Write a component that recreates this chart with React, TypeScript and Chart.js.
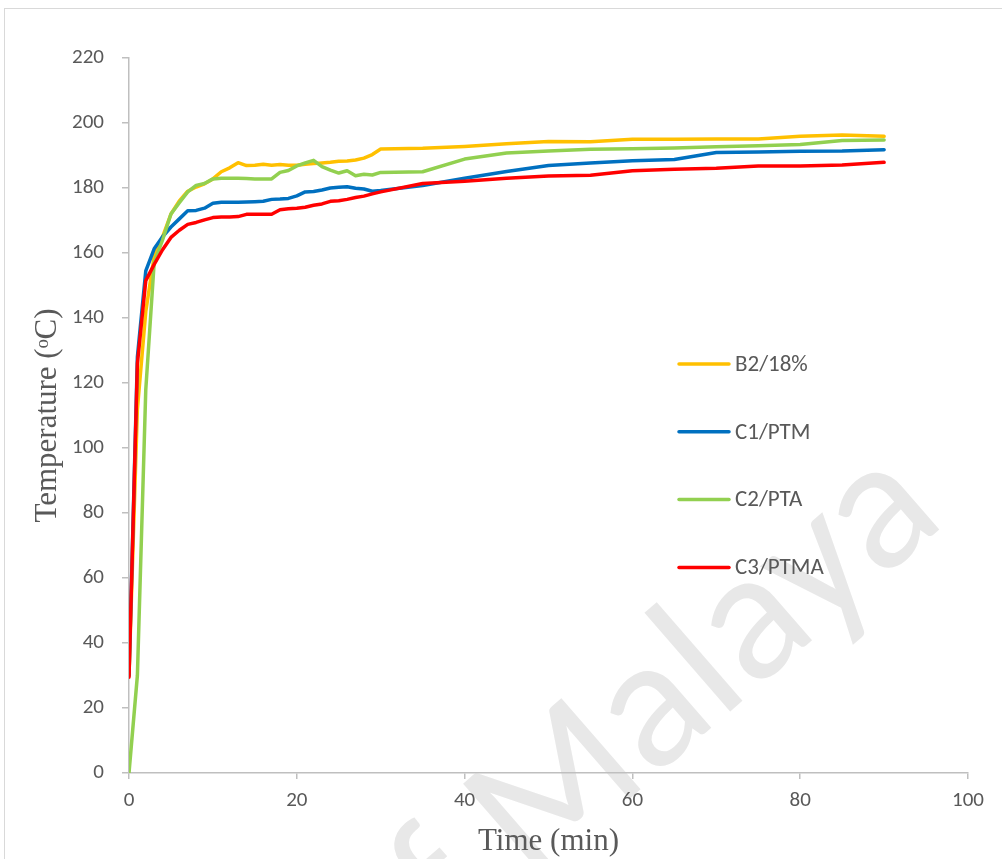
import React, { useEffect, useRef } from "react";
import { Chart, registerables } from "chart.js";

Chart.register(...registerables);

const times = [
  0, 1, 2, 3, 4, 5, 6, 7, 8, 9, 10, 11, 12, 13, 14, 15, 16, 17, 18, 19, 20,
  21, 22, 23, 24, 25, 26, 27, 28, 29, 30, 35, 40, 45, 50, 55, 60, 65, 70, 75,
  80, 85, 90,
];

const b2 = [
  30, 112, 142, 159, 165, 172, 176, 179, 180.3, 181.3, 182.8, 185, 186.2, 187.8,
  186.9, 187, 187.3, 187, 187.2, 187, 187, 187.3, 187.5, 187.7, 187.9, 188.2,
  188.3, 188.6, 189.2, 190.3, 192, 192.2, 192.8, 193.6, 194.3, 194.2, 195, 195,
  195.1, 195.1, 195.9, 196.3, 195.9,
];

const c1 = [
  30, 128, 154.5, 161.3, 165, 168, 170.5, 173, 173.1, 173.8, 175.3, 175.6,
  175.6, 175.6, 175.7, 175.8, 175.9, 176.5, 176.6, 176.8, 177.6, 178.8, 178.9,
  179.4, 180, 180.2, 180.4, 179.9, 179.7, 179, 179.2, 180.8, 183, 185.1, 186.9,
  187.7, 188.4, 188.8, 190.9, 191.1, 191.3, 191.4, 191.8,
];

const c2 = [
  0, 30, 118, 157, 164, 172, 175.5, 178.8, 180.8, 181.4, 182.8, 183, 183, 183,
  182.9, 182.8, 182.8, 182.8, 184.8, 185.4, 186.8, 187.7, 188.5, 186.6, 185.5,
  184.6, 185.3, 183.8, 184.2, 184, 184.8, 185, 188.9, 190.8, 191.4, 191.9, 192.1,
  192.3, 192.7, 193, 193.4, 194.6, 194.8,
];

const c3 = [
  29.5, 126, 151.5, 156.5, 161, 164.8, 167, 168.8, 169.4, 170.2, 170.9, 171.1,
  171.1, 171.2, 171.9, 171.9, 171.9, 171.9, 173.3, 173.6, 173.8, 174.1, 174.7,
  175.1, 175.9, 176.1, 176.5, 177.1, 177.5, 178.2, 178.8, 181.4, 182.1, 183,
  183.7, 183.9, 185.3, 185.8, 186.1, 186.8, 186.8, 187.1, 187.9,
];

const seriesNames = ["B2/18%", "C1/PTM", "C2/PTA", "C3/PTMA"];
const seriesColors = ["#FFC000", "#0070C0", "#92D050", "#FF0000"];
const seriesValues = [b2, c1, c2, c3];

const xTitle = "Time (min)";
const yTitle = "Temperature (\u1D52C)";
const watermarkText = "University of Malaya";

const TICK_FONT = "Carlito, Lato, 'Open Sans', sans-serif";
const TITLE_FONT = "'Liberation Serif', 'Times New Roman', serif";
const AXIS_COLOR = "#bfbfbf";
const TEXT_COLOR = "#595959";

const framePlugin = {
  id: "frameAndWatermark",
  beforeDraw(chart: any) {
    const ctx = chart.ctx;
    ctx.save();
    ctx.fillStyle = "#ffffff";
    ctx.fillRect(0, 0, chart.width, chart.height);
    ctx.strokeStyle = "#d9d9d9";
    ctx.lineWidth = 1;
    ctx.strokeRect(4.5, 8.5, 1200, 1000);
    // watermark
    ctx.translate(948, 522);
    ctx.rotate((-41 * Math.PI) / 180);
    ctx.font = `188px ${TICK_FONT}`;
    ctx.fillStyle = "#e8e8e8";
    ctx.textAlign = "right";
    ctx.textBaseline = "alphabetic";
    ctx.fillText(watermarkText, 0, 0);
    ctx.restore();
  },
};

const legendPlugin = {
  id: "customLegend",
  afterDraw(chart: any) {
    const ctx = chart.ctx;
    ctx.save();
    chart.data.datasets.forEach((ds: any, i: number) => {
      const y = 364 + i * 67.8;
      ctx.strokeStyle = ds.borderColor;
      ctx.lineWidth = 3.5;
      ctx.lineCap = "round";
      ctx.beginPath();
      ctx.moveTo(679, y);
      ctx.lineTo(729, y);
      ctx.stroke();
      ctx.fillStyle = TEXT_COLOR;
      ctx.font = `23px ${TICK_FONT}`;
      ctx.textAlign = "left";
      ctx.textBaseline = "middle";
      ctx.fillText(ds.label, 735, y + 1);
    });
    ctx.restore();
  },
};

export default function App() {
  const ref = useRef<HTMLCanvasElement | null>(null);

  useEffect(() => {
    if (!ref.current) return;
    const datasets = seriesNames.map((name, i) => ({
      label: name,
      data: times.map((t, j) => ({ x: t, y: seriesValues[i][j] })),
      borderColor: seriesColors[i],
      backgroundColor: seriesColors[i],
      borderWidth: 3.5,
      pointRadius: 0,
      tension: 0,
      fill: false,
      order: seriesNames.length - i,
      borderCapStyle: "round" as const,
      borderJoinStyle: "round" as const,
    }));

    const chart = new Chart(ref.current, {
      type: "line",
      data: { datasets },
      options: {
        animation: false,
        responsive: false,
        devicePixelRatio: 1,
        layout: { padding: { top: 58, right: 34, left: 0, bottom: 0 } },
        plugins: {
          legend: { display: false },
          tooltip: { enabled: false },
        },
        scales: {
          x: {
            type: "linear",
            min: 0,
            max: 100,
            afterFit: (s: any) => {
              s.height = 86;
            },
            ticks: {
              stepSize: 20,
              color: TEXT_COLOR,
              font: { family: TICK_FONT, size: 21 },
              padding: 9,
              maxRotation: 0,
            },
            grid: {
              drawOnChartArea: false,
              drawTicks: true,
              tickLength: 6,
              color: AXIS_COLOR,
              lineWidth: 1.5,
            },
            border: { display: true, color: AXIS_COLOR, width: 1.5 },
            title: {
              display: true,
              text: xTitle,
              color: TEXT_COLOR,
              font: { family: TITLE_FONT, size: 31, lineHeight: 1 },
              padding: { top: 0, bottom: 1.5 },
            },
          },
          y: {
            type: "linear",
            min: 0,
            max: 220,
            afterFit: (s: any) => {
              s.width = 129;
            },
            ticks: {
              stepSize: 20,
              color: TEXT_COLOR,
              font: { family: TICK_FONT, size: 21 },
              padding: 18,
            },
            grid: {
              drawOnChartArea: false,
              drawTicks: true,
              tickLength: 7,
              color: AXIS_COLOR,
              lineWidth: 1.5,
            },
            border: { display: true, color: AXIS_COLOR, width: 1.5 },
            title: {
              display: true,
              text: yTitle,
              color: TEXT_COLOR,
              font: { family: TITLE_FONT, size: 31, lineHeight: 1 },
              padding: { top: 32, bottom: 0 },
            },
          },
        },
      },
      plugins: [framePlugin, legendPlugin],
    });
    return () => chart.destroy();
  }, []);

  return (
    <div style={{ position: "fixed", left: 0, top: 0, width: 1002, height: 859 }}>
      <canvas ref={ref} width={1002} height={859} style={{ display: "block" }} />
    </div>
  );
}
